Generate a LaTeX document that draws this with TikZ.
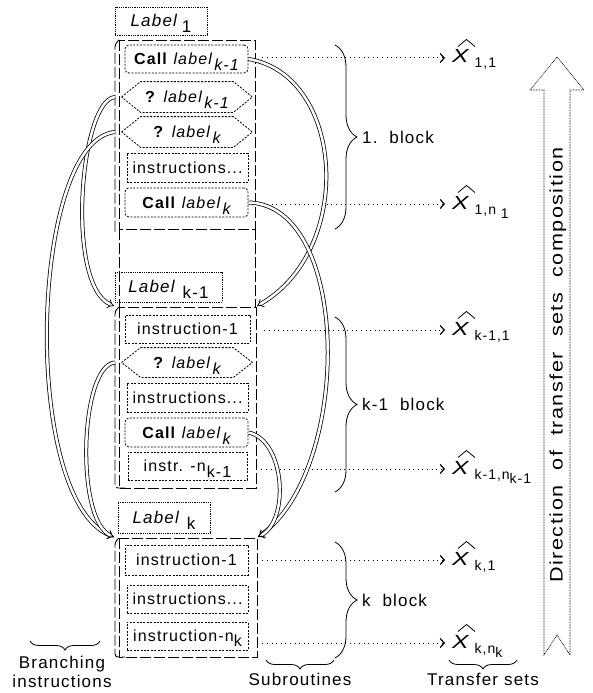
\documentclass[tikz,border=0pt]{standalone}
\usepackage{fontspec}
\setmainfont{Liberation Sans}
\newfontfamily\spf[LetterSpace=7]{Liberation Sans}
\usetikzlibrary{arrows.meta,decorations.pathreplacing,calc}
\newcommand\lsub[1]{\hspace{1pt}\raisebox{-6pt}{#1}}
\newcommand\xh[1]{{\fontsize{19}{19}\selectfont\scalebox{1.3}[1]{\itshape X}}\hspace{6pt}\raisebox{-5pt}{\fontsize{14}{14}\selectfont #1}}
\newcommand\bframe[4]{%
  \draw[frame] (#1,#2) rectangle (#3,#4);
  \draw[frame, rounded corners=3pt] (#1,#2) -- (#1-4,#2+4) -- (#1-4,#4) -- (#1+6,#4);
}
\begin{document}
\begin{tikzpicture}[x=1pt,y=-1pt,
  frame/.style={line width=0.9pt, dash pattern=on 11pt off 3pt},
  ibox/.style={draw, line width=0.8pt, dash pattern=on 2pt off 1.4pt, inner sep=0pt,
    text height=11pt, text depth=0pt, font=\spf\fontsize{16}{16}\selectfont},
  callbox/.style={ibox, rounded corners=4pt},
  hexa/.style={ibox, draw=none},
  hexline/.style={line width=0.8pt, dash pattern=on 2pt off 1.4pt},
  lblbox/.style={draw, line width=0.7pt, dash pattern=on 0.8pt off 1pt, inner sep=0pt,
    text height=11pt, text depth=0pt, font=\spf\fontsize{17}{17}\selectfont},
  link/.style={double, line width=0.75pt, double distance=2.5pt, -{Implies}},
  dotarr/.style={line width=1pt, dash pattern=on 1pt off 3.6pt,
    -{Straight Barb[length=4pt,width=9pt,line width=1.2pt]}},
  xnode/.style={anchor=west, inner sep=0pt, text height=10pt, text depth=0pt, font=\spf},
  hatline/.style={line width=0.8pt},
  brc/.style={decorate, decoration={brace, amplitude=#1}, line width=0.8pt},
  blk/.style={anchor=west, inner sep=0pt, font=\spf\fontsize{17}{17}\selectfont},
  bot/.style={inner sep=0pt, align=center, font=\spf\fontsize{17}{19}\selectfont},
]
\useasboundingbox (0,0) rectangle (592,693);

% ---------- block frames
\draw[frame] (119,40) rectangle (255,229);
\draw[frame, rounded corners=3pt] (119,40) -- (115,44) -- (115,232);
\draw[frame] (119,229) -- (119,307);
\draw[frame] (255,229) -- (255,307);
\bframe{119}{307}{256}{488}
\bframe{119}{538}{257}{657}

% ---------- labels
\node[lblbox, minimum width=92pt, minimum height=28pt] (L1) at (161,21)
  {\itshape Label\hspace{5pt}\raisebox{-6pt}{\upshape 1}};
\node[lblbox, minimum width=107pt, minimum height=30pt] (L2) at (168.5,287)
  {\itshape Label\hspace{8pt}\raisebox{-6pt}{\upshape k-1}};
\node[lblbox, minimum width=92pt, minimum height=31pt] (L3) at (164,517.5)
  {\itshape Label\hspace{8pt}\raisebox{-6pt}{\upshape k}};

% ---------- block 1
\node[callbox, minimum width=123pt, minimum height=28pt] (c1) at (186.5,59)
  {\textbf{Call} \textit{label}\lsub{\itshape k-1}};
\node[hexa, minimum width=130pt, minimum height=30pt] (q1) at (187,97)
  {\textbf{?} \textit{label}\lsub{\itshape k-1}};
\node[hexa, minimum width=130pt, minimum height=30pt] (q2) at (187,132)
  {\textbf{?} \textit{label}\lsub{\itshape k}};
\node[ibox, minimum width=121pt, minimum height=29pt] (i1) at (187.5,167.5) {instructions...};
\node[callbox, minimum width=123pt, minimum height=29pt] (c2) at (186.5,202.5)
  {\textbf{Call} \textit{label}\lsub{\itshape k}};

% ---------- block k-1
\node[ibox, minimum width=125pt, minimum height=28pt] (j1) at (187.5,329) {instruction-1};
\node[hexa, minimum width=130pt, minimum height=29pt] (q3) at (187,362.5)
  {\textbf{?} \textit{label}\lsub{\itshape k}};
\node[ibox, minimum width=121pt, minimum height=29pt] (j2) at (187.5,397.5) {instructions...};
\node[callbox, minimum width=123pt, minimum height=29pt] (c3) at (186.5,432.5)
  {\textbf{Call} \textit{label}\lsub{\itshape k}};
\node[ibox, minimum width=119pt, minimum height=28pt] (j3) at (187.5,466)
  {instr. -n\lsub{k-1}};

% ---------- block k
\node[ibox, minimum width=123pt, minimum height=30pt] (m1) at (186.5,560) {instruction-1};
\node[ibox, minimum width=121pt, minimum height=28pt] (m2) at (187.5,599) {instructions...};
\node[ibox, minimum width=121pt, minimum height=28pt] (m3) at (187.5,636) {instruction-n\raisebox{-5pt}{k}};

% hexagon outlines
\foreach \h in {q1,q2,q3}{
  \draw[hexline] (\h.west) -- ([xshift=19pt]\h.north west) -- ([xshift=-19pt]\h.north east)
    -- (\h.east) -- ([xshift=-19pt]\h.south east) -- ([xshift=19pt]\h.south west) -- cycle;
}

% ---------- transfer sets
\node[xnode] (x11) at (452,58) {\xh{1,1}};
\node[xnode] (x12) at (452,204) {\xh{1,n\raisebox{-4pt}{ 1}}};
\node[xnode] (x21) at (452,330) {\xh{k-1,1}};
\node[xnode] (x22) at (452,469) {\xh{k-1,n\raisebox{-4pt}{k-1}}};
\node[xnode] (x31) at (452,560) {\xh{k,1}};
\node[xnode] (x32) at (452,643) {\xh{k,n\raisebox{-4pt}{k}}};

\foreach \s/\t in {c1/x11,c2/x12,j1/x21,j3/x22,m1/x31,m3/x32}{
  \draw[dotarr] ([xshift=14pt]\s.east |- \t.west) -- ([xshift=-7pt]\t.west);
  \draw[hatline] ([shift={(6,-11.5)}]\t.west) -- ++(8.5,-7) -- ++(8.5,7);
}

% ---------- corner coordinates
\coordinate (f1) at (115,0);
\coordinate (t2r) at (257,306);
\coordinate (t2l) at (114,306);
\coordinate (t3r) at (258,537);
\coordinate (t3l) at (114,537);

% ---------- right-side links (subroutine calls)
\draw[link] (c1.east) .. controls (345,75) and (355,250) .. (t2r);
\draw[link] (c2.east) .. controls (352,205) and (352,470) .. (t3r);
\draw[link] (c3.east) .. controls (285,440) and (290,520) .. (t3r);

% ---------- left-side links (branching)
\draw[link] (q1.west -| f1) .. controls (80,100) and (65,285) .. (t2l);
\draw[link] (q2.west -| f1) .. controls (30,140) and (20,500) .. (t3l);
\draw[link] (q3.west -| f1) .. controls (80,365) and (75,520) .. (t3l);

% ---------- block braces
\draw[brc=22pt] (335,45) -- (335,229);
\node[blk] (b1) at (362,137) {1.\ \ block};
\draw[brc=22pt] (335,317) -- (335,492);
\node[blk] (b2) at (362,404) {k-1\ \ block};
\draw[brc=22pt] (335,542) -- (335,658);
\node[blk] (b3) at (362,600) {k\ \ block};

% ---------- bottom braces
\draw[brc=9pt] (100,641) -- (30,641);
\node[bot] (n1) at (62,672) {Branching\\instructions};
\draw[brc=9pt] (334,660) -- (266,660);
\node[bot] (n2) at (300,679) {Subroutines};
\draw[brc=9pt] (517,660) -- (449,660);
\node[bot] (n3) at (483,679) {Transfer sets};

% ---------- direction arrow
\draw[line width=0.7pt, dash pattern=on 0.8pt off 0.8pt]
  (557,57) -- (584,90) -- (570,90) -- (570,655) -- (557,635) -- (544,655) -- (544,90) -- (530,90) -- cycle;
\node[rotate=90, inner sep=0pt, font=\spf\fontsize{18}{18}\selectfont] (dir) at (558,365)
  {\scalebox{1.2}[1]{Direction\ \ of\ \ transfer\ \ sets\ \ composition}};
\end{tikzpicture}
\end{document}
